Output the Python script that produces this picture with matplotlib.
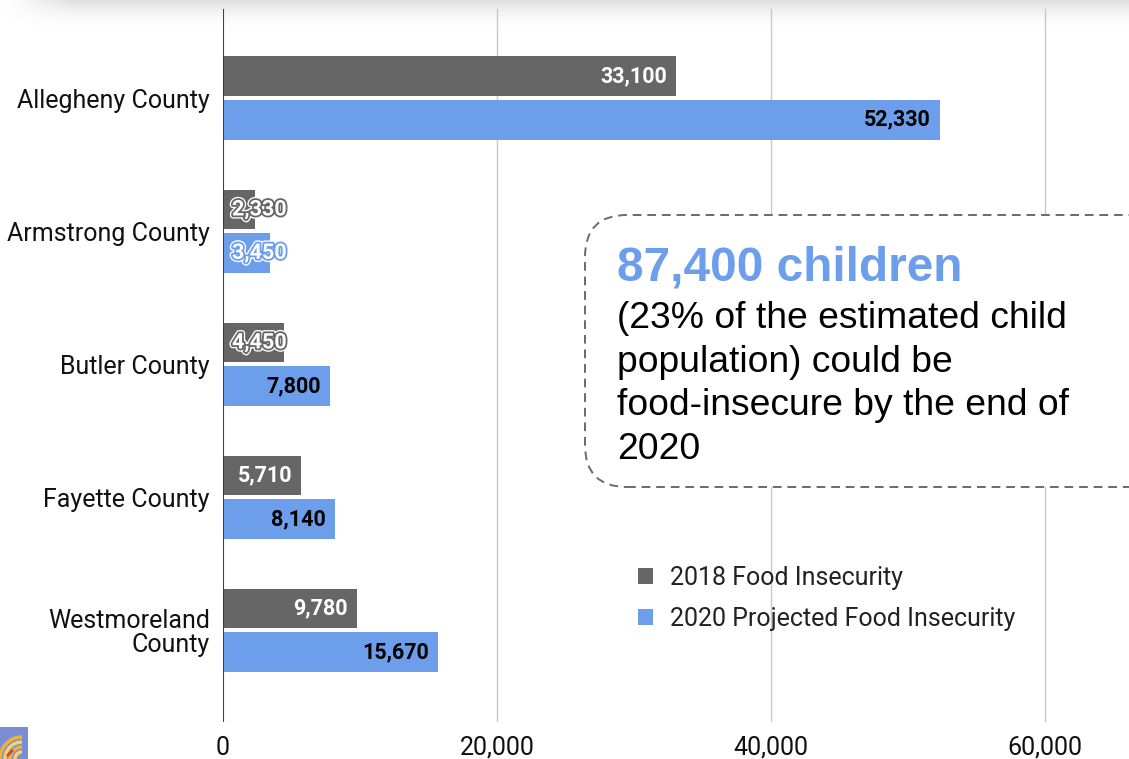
import numpy as np
import matplotlib
matplotlib.use("Agg")
import matplotlib.pyplot as plt
from matplotlib.patches import FancyBboxPatch, Patch, Rectangle, Arc
from matplotlib.transforms import IdentityTransform
import matplotlib.patheffects as pe

# ---- data ----
counties = ["Allegheny County", "Armstrong County", "Butler County",
            "Fayette County", "Westmoreland\nCounty"]
food_2018 = [33100, 2330, 4450, 5710, 9780]
food_2020 = [52330, 3450, 7800, 8140, 15670]
series_names = ["2018 Food Insecurity", "2020 Projected Food Insecurity"]
xticks = [0, 20000, 40000, 60000]
xtick_labels = ["0", "20,000", "40,000", "60,000"]
headline = "87,400 children"
body_lines = ["(23% of the estimated child", "population) could be",
              "food-insecure by the end of", "2020"]

GRAY = "#666666"
BLUE = "#6d9eeb"
W, H, DPI = 1129, 759, 100

fig = plt.figure(figsize=(W / DPI, H / DPI), dpi=DPI)
fig.patch.set_facecolor("white")

# top shadow decoration
sh = fig.add_axes([0, 1 - 28 / H, 1, 28 / H])
ys = np.linspace(0, 1, 28)[:, None]
xs = np.arange(W)[None, :]
alpha = (1 - ys) ** 1.6 * np.clip((xs - 5) / 70.0, 0, 1)
img = np.ones((28, W, 4))
img[..., :3] = 0.86
img[..., 3] = alpha * 0.9
sh.imshow(img, aspect="auto", extent=[0, 1, 0, 1])
sh.axis("off")

ax = fig.add_axes([223 / W, 1 - 722 / H, 1 - 223 / W, (722 - 9) / H])
ax.set_zorder(2)
ax.patch.set_alpha(0)

y = np.arange(len(counties))
off = 0.163
h = 0.30
b1 = ax.barh(y - off, food_2018, height=h, color=GRAY, label=series_names[0], zorder=3)
b2 = ax.barh(y + off, food_2020, height=h, color=BLUE, label=series_names[1], zorder=3)

ax.set_xlim(0, (W - 223) / 274 * 20000)
ax.set_ylim(4.69, -0.67)
ax.set_yticks(y)
ax.set_yticklabels(counties, fontfamily="Roboto", fontsize=18, color="#111111",
                   linespacing=1.02)
ax.set_xticks(xticks)
ax.set_xticklabels(xtick_labels, fontfamily="Roboto", fontsize=18, color="#111111")
ax.tick_params(axis="both", length=0)
ax.tick_params(axis="y", pad=9.5)
ax.tick_params(axis="x", pad=10)
for s in ax.spines.values():
    s.set_visible(False)
ax.grid(axis="x", color="#c8c8c8", linewidth=1.0, zorder=0)
ax.axvline(0, color="#333333", linewidth=1.3, zorder=4)

pad_px = 9
for bars, vals, col, txtcol in [(b1, food_2018, GRAY, "white"), (b2, food_2020, BLUE, "black")]:
    for rect, v in zip(bars, vals):
        yc = rect.get_y() + rect.get_height() / 2
        lbl = f"{v:,}"
        if v >= 5000:
            ax.annotate(lbl, (v, yc), xytext=(-pad_px * 72 / DPI, 0),
                        textcoords="offset points", ha="right", va="center",
                        fontfamily="Roboto", fontweight="bold", fontsize=15.5,
                        color=txtcol, zorder=5)
        else:
            ax.annotate(lbl, (0, yc), xytext=(pad_px * 72 / DPI, 0),
                        textcoords="offset points", ha="left", va="center",
                        fontfamily="Roboto", fontweight="bold", fontsize=15.5,
                        color="white", zorder=5,
                        path_effects=[pe.Stroke(linewidth=4.5, foreground="white"),
                                      pe.Stroke(linewidth=2.6, foreground=col),
                                      pe.Normal()])

# legend
handles = [Patch(facecolor=GRAY, edgecolor="none"), Patch(facecolor=BLUE, edgecolor="none")]
leg = fig.legend(handles, series_names, loc="upper left",
                 bbox_to_anchor=(638 / W, 1 - 566 / H), frameon=False,
                 prop={"family": "Roboto", "size": 18}, handlelength=0.6,
                 handleheight=0.6, handletextpad=0.7, labelspacing=0.68,
                 borderpad=0, borderaxespad=0)
for t in leg.get_texts():
    t.set_color("#222222")

# callout box (pixel coordinates)
box = FancyBboxPatch((585, H - 487), 600, 272,
                     boxstyle="round,pad=0,rounding_size=42",
                     transform=IdentityTransform(), facecolor="white",
                     edgecolor="#6a6a6a", linewidth=1.4, linestyle=(0, (4.5, 3)),
                     zorder=10)
fig.patches.append(box)
fig.text(617 / W, 1 - 281 / H, headline, ha="left", va="baseline",
         fontfamily="Liberation Sans", fontweight="bold", fontsize=34.4,
         color=BLUE, zorder=11)
for i, line in enumerate(body_lines):
    fig.text(617 / W, 1 - (328 + 43.7 * i) / H, line, ha="left", va="baseline",
             fontfamily="Liberation Sans", fontsize=26.8, color="black", zorder=11)

# small logo decoration bottom-left
lg = fig.add_axes([0, 0, 28 / W, 32 / H])
lg.set_xlim(0, 28)
lg.set_ylim(0, 32)
lg.add_patch(Rectangle((0, 0), 28, 32, color="#7a8fd3"))
for r, c in [(22, "#f2b233"), (17, "#f7d36b"), (12, "#f2b233"), (7, "#f7d36b")]:
    lg.add_patch(Arc((22, 0), 2 * r, 2 * r, theta1=90, theta2=180, color=c, lw=2.5))
lg.plot([8, 12], [4, 8], color="#d9443a", lw=2)
lg.axis("off")

fig.savefig("out.png", dpi=DPI)
